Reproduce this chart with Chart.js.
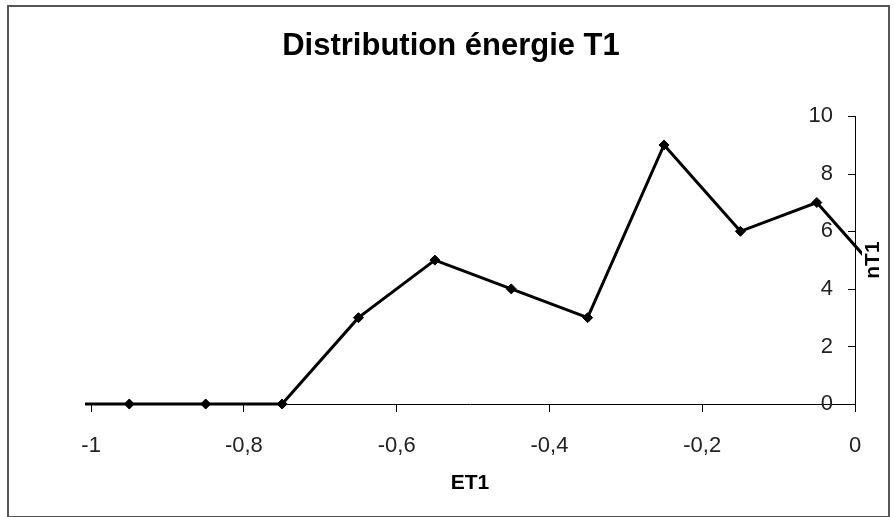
<!DOCTYPE html>
<html>
<head>
<meta charset="utf-8">
<script src="https://cdn.jsdelivr.net/npm/chart.js@4"></script>
<style>
  html, body { margin: 0; padding: 0; background: #fff; }
  #wrap { position: relative; width: 894px; height: 517px; }
  #frame { position: absolute; left: 7px; top: 5px; width: 879px; height: 509px; border: 2px solid #555; pointer-events: none; }
</style>
</head>
<body>
<div id="wrap">
  <canvas id="c" width="894" height="517"></canvas>
  <div id="frame"></div>
</div>
<script>
// ---- data ----
const energyClasses = [-1.05, -0.95, -0.85, -0.75, -0.65, -0.55, -0.45, -0.35, -0.25, -0.15, -0.05, 0.05];
const counts        = [0, 0, 0, 0, 3, 5, 4, 3, 9, 6, 7, 4];
const xTickValues   = [-1, -0.8, -0.6, -0.4, -0.2, 0];
const yTickValues   = [0, 2, 4, 6, 8, 10];
const chartTitle    = 'Distribution énergie T1';
const xTitle        = 'ET1';
const yTitle        = 'nT1';

const FONT = "'Liberation Sans', Arial, sans-serif";
Chart.defaults.font.family = FONT;

const points = energyClasses.map((x, i) => ({ x: x, y: counts[i] }));

// inward tick marks on the right-hand y axis + rotated y title
const yAxisExtras = {
  id: 'yAxisExtras',
  afterDraw(chart) {
    const y = chart.scales.y;
    const ctx = chart.ctx;
    const xPix = y.left;
    ctx.save();
    ctx.strokeStyle = '#000';
    ctx.lineWidth = 1;
    y.ticks.forEach(t => {
      const py = Math.round(y.getPixelForValue(t.value)) + 0.5;
      ctx.beginPath();
      ctx.moveTo(xPix - 7, py);
      ctx.lineTo(xPix, py);
      ctx.stroke();
    });
    ctx.translate(xPix + 18, (y.top + y.bottom) / 2);
    ctx.rotate(-Math.PI / 2);
    ctx.font = 'bold 21px ' + FONT;
    ctx.fillStyle = '#000';
    ctx.textAlign = 'center';
    ctx.textBaseline = 'middle';
    ctx.fillText(yTitle, 0, 0);
    ctx.restore();
  }
};

new Chart(document.getElementById('c'), {
  type: 'line',
  data: {
    datasets: [{
      data: points,
      borderColor: '#000',
      backgroundColor: '#000',
      borderWidth: 3,
      pointStyle: 'rectRot',
      pointRadius: 5,
      pointBorderWidth: 1,
      tension: 0,
      clip: { left: 0, right: 7, top: 5, bottom: 5 }
    }]
  },
  options: {
    responsive: false,
    animation: false,
    events: [],
    layout: { padding: { left: 47, right: 39, top: 0, bottom: 22 } },
    plugins: {
      legend: { display: false },
      tooltip: { enabled: false },
      title: {
        display: true,
        text: chartTitle,
        color: '#000',
        font: { size: 31, weight: 'bold' },
        padding: { top: 28, bottom: 51 }
      }
    },
    scales: {
      x: {
        type: 'linear',
        min: -1.008,
        max: 0,
        afterBuildTicks: s => { s.ticks = xTickValues.map(v => ({ value: v })); },
        afterFit: s => { s.height = 91; },
        ticks: {
          color: '#222',
          font: { size: 22, lineHeight: 1.0 },
          padding: 23,
          maxRotation: 0,
          callback: v => String(v).replace('.', ',')
        },
        grid: { display: true, drawOnChartArea: false, drawTicks: true, tickLength: 8, color: '#000' },
        border: { display: true, color: '#000', width: 1 },
        title: {
          display: true,
          text: xTitle,
          color: '#000',
          font: { size: 21, weight: 'bold', lineHeight: 0.75 },
          padding: { top: 0, bottom: 4 }
        }
      },
      y: {
        type: 'linear',
        position: 'right',
        min: 0,
        max: 10,
        afterBuildTicks: s => { s.ticks = yTickValues.map(v => ({ value: v })); },
        ticks: {
          color: '#222',
          font: { size: 22 },
          mirror: true,
          padding: -22
        },
        grid: { display: false, drawTicks: false },
        border: { display: true, color: '#000', width: 1 }
      },
      yL: {
        type: 'linear',
        position: 'left',
        display: true,
        ticks: { display: false },
        grid: { display: false, drawTicks: false },
        border: { display: false },
        afterFit: s => { s.width = 38; }
      }
    }
  },
  plugins: [yAxisExtras]
});
</script>
</body>
</html>
